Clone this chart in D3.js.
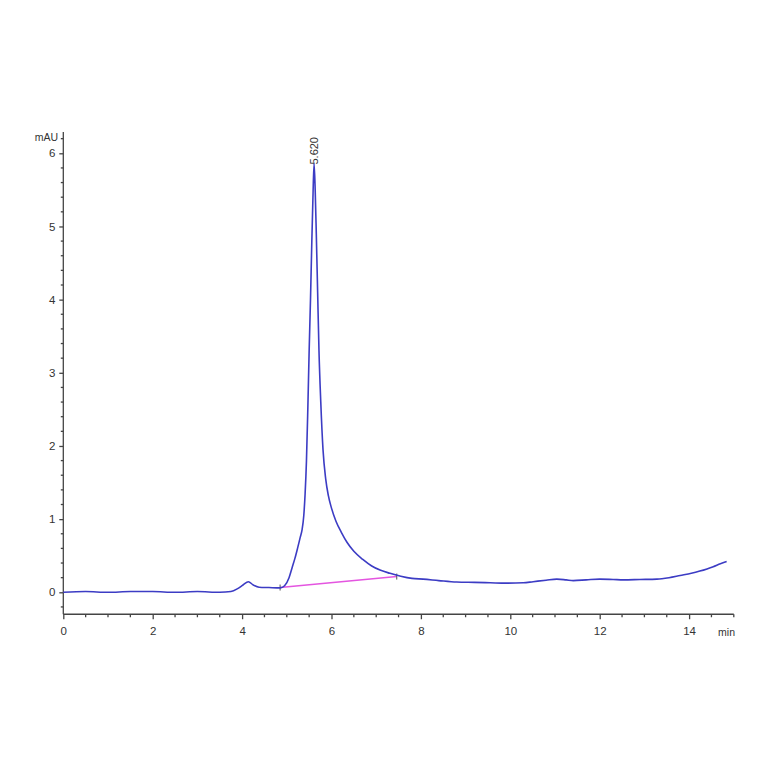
<!DOCTYPE html>
<html>
<head>
<meta charset="utf-8">
<script src="https://cdn.jsdelivr.net/npm/d3@7"></script>
<style>
  body { margin: 0; background: #fff; }
  svg text { font-family: "Liberation Sans", Arial, sans-serif; fill: #333; }
</style>
</head>
<body>
<div id="chart"></div>
<script>
// retention time (min) and signal (mAU)
var times = [0, 0.5, 1.0, 1.5, 2.0, 2.5, 3.0, 3.5, 3.75, 3.9, 4.02, 4.14, 4.25, 4.38, 4.6, 4.85,
  4.95, 5.05, 5.12, 5.18, 5.24, 5.30, 5.34, 5.38, 5.41, 5.44, 5.47, 5.50, 5.53, 5.56, 5.585, 5.61,
  5.635, 5.66, 5.69, 5.72, 5.76, 5.81, 5.87, 5.93, 6.0, 6.1, 6.22, 6.35, 6.5, 6.7, 6.9, 7.1, 7.31,
  7.55, 7.8, 8.05, 8.4, 8.8, 9.2, 9.55, 9.9, 10.29, 10.51, 10.8, 11.04, 11.25, 11.41, 11.7, 12.0,
  12.3, 12.53, 12.9, 13.28, 13.55, 13.8, 14.05, 14.24, 14.4, 14.54, 14.7, 14.84];
var signal = [0.00, 0.01, 0.00, 0.01, 0.01, 0.00, 0.01, 0.00, 0.01, 0.05, 0.10, 0.145, 0.10, 0.07, 0.065, 0.06,
  0.09, 0.20, 0.34, 0.46, 0.60, 0.75, 0.85, 1.05, 1.35, 1.80, 2.5, 3.3, 4.0, 4.8, 5.4, 5.86,
  5.5, 4.9, 4.1, 3.3, 2.6, 1.95, 1.55, 1.32, 1.15, 0.97, 0.82, 0.68, 0.56, 0.45, 0.36, 0.30, 0.26,
  0.22, 0.19, 0.18, 0.16, 0.14, 0.135, 0.13, 0.125, 0.13, 0.145, 0.165, 0.18, 0.17, 0.16, 0.17, 0.18,
  0.175, 0.17, 0.175, 0.18, 0.20, 0.23, 0.26, 0.29, 0.32, 0.35, 0.39, 0.42];

// integration baseline under the main peak
var baseTimes = [4.85, 7.46];
var baseValues = [0.065, 0.215];

var peakTime = 5.61;
var peakValue = 5.86;
var peakLabel = "5.620";

var xTicks = [0, 2, 4, 6, 8, 10, 12, 14];
var yTicks = [0, 1, 2, 3, 4, 5, 6];

var dims = { width: 764, height: 764 };

var svg = d3.select("#chart")
  .append("svg")
  .attr("width", dims.width)
  .attr("height", dims.height);

var x = d3.scaleLinear().domain([0, 15]).range([63.3, 733.8]);
var y = d3.scaleLinear().domain([0, 6]).range([592.3, 153.3]);

var yBottom = y(-0.3);
var yTop = y(6.29);

// axes
var xAxis = svg.append("g")
  .attr("transform", `translate(0,${yBottom})`)
  .call(d3.axisBottom(x).tickValues(xTicks).tickSize(5).tickPadding(8).tickFormat(d3.format("d")));
xAxis.select(".domain").remove();
xAxis.append("line").attr("x1", x(0)).attr("x2", x(15)).attr("stroke", "#444").attr("stroke-width", 1.3);
xAxis.selectAll(".tick line").attr("stroke", "#444").attr("stroke-width", 1.3);
xAxis.selectAll("text").attr("font-size", 11.5).style("fill", "#333");

var xMinor = d3.range(0, 15.01, 0.5).filter(d => d % 2 !== 0);
xAxis.selectAll(".minor").data(xMinor).enter().append("line")
  .attr("x1", d => x(d)).attr("x2", d => x(d))
  .attr("y1", 0).attr("y2", 3)
  .attr("stroke", "#444").attr("stroke-width", 1.3);

var yAxis = svg.append("g")
  .attr("transform", `translate(${x(0)},0)`)
  .call(d3.axisLeft(y).tickValues(yTicks).tickSize(4).tickPadding(4).tickFormat(d3.format("d")));
yAxis.select(".domain").remove();
yAxis.append("line").attr("y1", yBottom).attr("y2", yTop).attr("stroke", "#444").attr("stroke-width", 1.3);
yAxis.selectAll(".tick line").attr("stroke", "#444").attr("stroke-width", 1.3);
yAxis.selectAll("text").attr("font-size", 11.5).style("fill", "#333");

var yMinor = d3.range(-0.2, 6.25, 0.2).filter(d => Math.abs(d - Math.round(d)) > 0.01);
yAxis.selectAll(".minor").data(yMinor).enter().append("line")
  .attr("x1", -2.5).attr("x2", 0)
  .attr("y1", d => y(d)).attr("y2", d => y(d))
  .attr("stroke", "#444").attr("stroke-width", 1.3);

// units
svg.append("text").attr("x", 58).attr("y", 141).attr("text-anchor", "end")
  .attr("font-size", 10.5).text("mAU");
svg.append("text").attr("x", 735).attr("y", 636).attr("text-anchor", "end")
  .attr("font-size", 10.5).text("min");

// baseline (pink) with end marks
svg.append("line")
  .attr("x1", x(baseTimes[0])).attr("y1", y(baseValues[0]))
  .attr("x2", x(baseTimes[1])).attr("y2", y(baseValues[1]))
  .attr("stroke", "#e455e0").attr("stroke-width", 1.5);
svg.selectAll(".bmark").data(baseTimes).enter().append("line")
  .attr("x1", (d, i) => x(d)).attr("x2", (d, i) => x(d))
  .attr("y1", (d, i) => y(baseValues[i]) - 3).attr("y2", (d, i) => y(baseValues[i]) + 3)
  .attr("stroke", "#555").attr("stroke-width", 1);

// trace
var pts = times.map((t, i) => [t, signal[i]]);
var line = d3.line()
  .x(d => x(d[0]))
  .y(d => y(d[1]))
  .curve(d3.curveMonotoneX);

svg.append("path")
  .datum(pts)
  .attr("d", line)
  .attr("fill", "none")
  .attr("stroke", "#3c3cc4")
  .attr("stroke-width", 1.6);

// peak label
svg.append("text")
  .attr("transform", `translate(${x(peakTime) + 4},${y(peakValue) + 1}) rotate(-90)`)
  .attr("font-size", 11)
  .text(peakLabel);
</script>
</body>
</html>
